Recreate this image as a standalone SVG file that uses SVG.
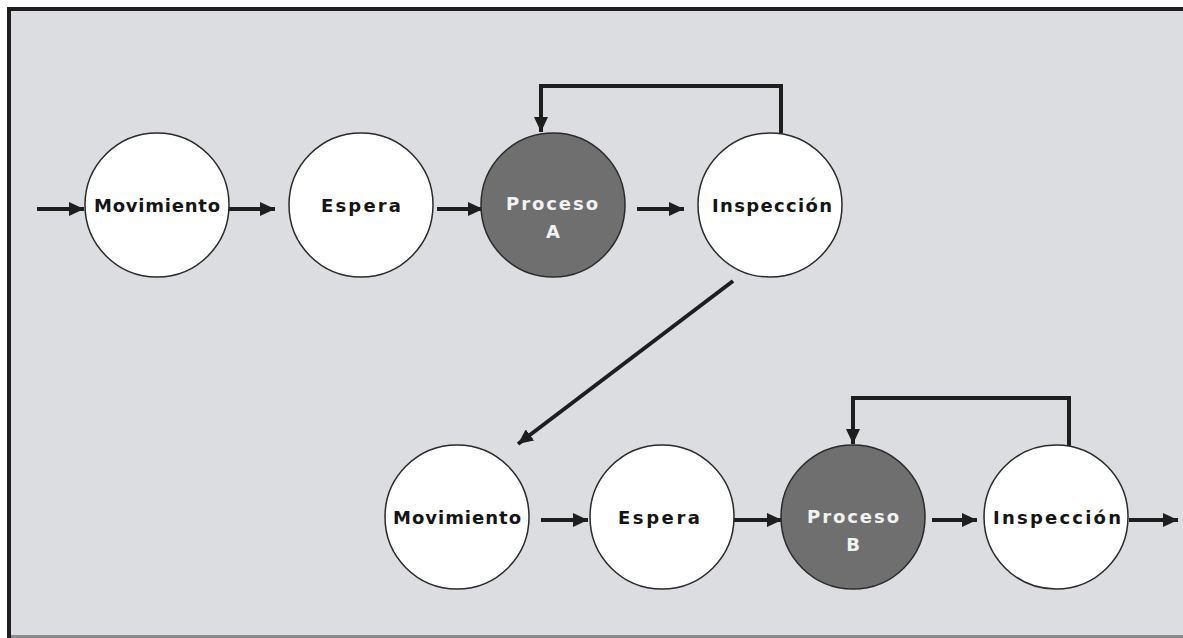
<svg xmlns="http://www.w3.org/2000/svg" width="1183" height="638" viewBox="0 0 1183 638">
  <defs>
    <marker id="arrow" viewBox="0 0 15 14" refX="15" refY="7" markerWidth="15" markerHeight="14" markerUnits="userSpaceOnUse" orient="auto">
      <path d="M0,0 L15,7 L0,14 Z" fill="#1e1e1e"/>
    </marker>
    <style>
      .node { fill: #ffffff; stroke: #2a2a2a; stroke-width: 1.5; }
      .proc { fill: #6f6f6f; stroke: #2a2a2a; stroke-width: 1.5; }
      .lbl { font-family: "DejaVu Sans", Verdana, sans-serif; font-weight: bold; font-size: 18px; fill: #151515; text-anchor: middle; }
      .lbl-w { fill: #f2f2f2; }
      .edge { fill: none; stroke: #1e1e1e; stroke-width: 4; marker-end: url(#arrow); }
    </style>
  </defs>

  <!-- page and frame -->
  <rect x="0" y="0" width="1183" height="638" fill="#ffffff"/>
  <rect x="9" y="9" width="1180" height="630" fill="#dcdde0" stroke="#1f1f1f" stroke-width="4"/>
  <line x1="11" y1="636.5" x2="1183" y2="636.5" stroke="#8a8a8a" stroke-width="3"/>

  <!-- connectors -->
  <g id="connectors">
    <line class="edge" x1="37" y1="209" x2="84" y2="209"/>
    <line class="edge" x1="229" y1="209" x2="275" y2="209"/>
    <line class="edge" x1="437" y1="209" x2="483" y2="209"/>
    <line class="edge" x1="637" y1="209" x2="684" y2="209"/>
    <polyline class="edge" points="781,133 781,86 541,86 541,132"/>
    <line class="edge" x1="733" y1="281" x2="518" y2="444"/>
    <line class="edge" x1="541" y1="520" x2="588" y2="520"/>
    <line class="edge" x1="734" y1="520" x2="782" y2="520"/>
    <line class="edge" x1="932" y1="520" x2="977" y2="520"/>
    <polyline class="edge" points="1069,446 1069,398 853,398 853,444"/>
    <line class="edge" x1="1129" y1="520" x2="1178" y2="520"/>
  </g>

  <!-- top row -->
  <g id="mov-a">
    <circle class="node" cx="157" cy="205" r="72"/>
    <text class="lbl" x="157" y="212" textLength="126" lengthAdjust="spacing">Movimiento</text>
  </g>
  <g id="esp-a">
    <circle class="node" cx="361" cy="205" r="72"/>
    <text class="lbl" x="361" y="212" textLength="80" lengthAdjust="spacing">Espera</text>
  </g>
  <g id="proc-a">
    <circle class="proc" cx="553" cy="205" r="72"/>
    <text class="lbl lbl-w" x="552" y="210" textLength="92" lengthAdjust="spacing">Proceso</text>
    <text class="lbl lbl-w" x="553" y="238">A</text>
  </g>
  <g id="insp-a">
    <circle class="node" cx="770" cy="205" r="72"/>
    <text class="lbl" x="772" y="212" textLength="120" lengthAdjust="spacing">Inspección</text>
  </g>

  <!-- bottom row -->
  <g id="mov-b">
    <circle class="node" cx="457" cy="517" r="72"/>
    <text class="lbl" x="457" y="524" textLength="128" lengthAdjust="spacing">Movimiento</text>
  </g>
  <g id="esp-b">
    <circle class="node" cx="662" cy="517" r="72"/>
    <text class="lbl" x="659" y="524" textLength="82" lengthAdjust="spacing">Espera</text>
  </g>
  <g id="proc-b">
    <circle class="proc" cx="853" cy="517" r="72"/>
    <text class="lbl lbl-w" x="853" y="523" textLength="92" lengthAdjust="spacing">Proceso</text>
    <text class="lbl lbl-w" x="853" y="551">B</text>
  </g>
  <g id="insp-b">
    <circle class="node" cx="1056" cy="517" r="72"/>
    <text class="lbl" x="1057" y="524" textLength="128" lengthAdjust="spacing">Inspección</text>
  </g>
</svg>
